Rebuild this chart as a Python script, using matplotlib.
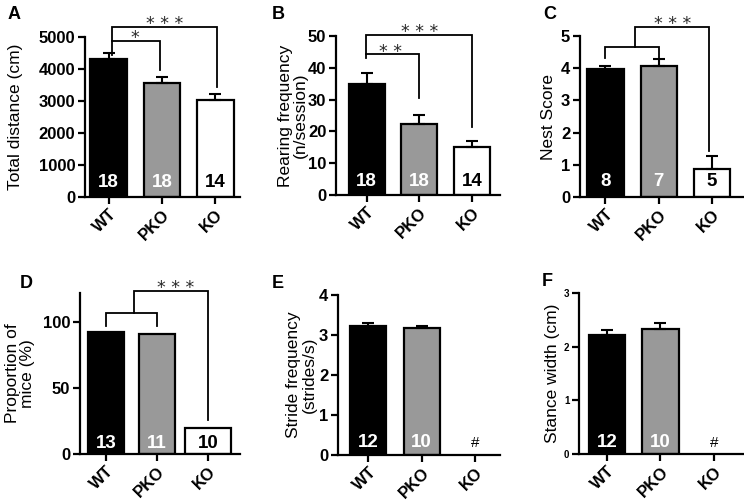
"""
Поведенческие тесты WT / PKO / KO: шесть панелей со столбцами
"""
import matplotlib
matplotlib.use('Agg')
import matplotlib.pyplot as plt
import matplotlib.transforms as mtransforms

plt.rcParams['font.family'] = ['Liberation Sans', 'DejaVu Sans']

groups = ['WT', 'PKO', 'KO']
bar_colors = ['black', '#999999', 'white']
count_colors = ['white', 'white', 'black']

# A - total distance
distance_mean = [4320, 3550, 3020]
distance_err = [180, 210, 190]
distance_n = ['18', '18', '14']

# B - rearing
rearing_mean = [35.0, 22.3, 15.2]
rearing_err = [3.4, 2.8, 1.8]
rearing_n = ['18', '18', '14']

# C - nest score
nest_mean = [3.98, 4.08, 0.88]
nest_err = [0.1, 0.22, 0.38]
nest_n = ['8', '7', '5']

# D - proportion of mice
proportion_mean = [92.3, 90.9, 20.0]
proportion_n = ['13', '11', '10']

# E - stride frequency (KO не измерялся)
stride_mean = [3.23, 3.17]
stride_err = [0.06, 0.06]
stride_n = ['12', '10', '#']

# F - stance width
stance_mean = [2.22, 2.33]
stance_err = [0.09, 0.11]
stance_n = ['12', '10', '#']

W, H = 744, 501
fig = plt.figure(figsize=(W / 100, H / 100), dpi=100)


def make_axes(left, right, bottom, top):
    """Создаёт оси по пиксельным координатам картинки."""
    return fig.add_axes([left / W, 1 - bottom / H,
                         (right - left) / W, (bottom - top) / H])


def draw_panel(ax, means, errs, counts, ylim, yticks, ylabel, xlim,
               count_y, tick_size=12, widths=None):
    n = len(means)
    if widths is None:
        widths = [0.68] * n
    for i in range(n):
        ax.bar(i, means[i], widths[i], color=bar_colors[i],
               edgecolor='black', linewidth=1.6, zorder=2)
        if errs is not None:
            ax.errorbar(i, means[i], yerr=[[0], [errs[i]]], color='black',
                        capsize=4, elinewidth=1.5, capthick=1.5, zorder=3)
    trans = mtransforms.blended_transform_factory(ax.transData, ax.transAxes)
    for i, c in enumerate(counts):
        if c == '#':
            ax.text(i, count_y, c, transform=trans, ha='center',
                    va='center', fontsize=11, color='black')
        else:
            ax.text(i, count_y, c, transform=trans, ha='center',
                    va='center', fontsize=13.5, fontweight='bold',
                    color=count_colors[i], zorder=4)
    ax.set_xlim(xlim)
    ax.set_ylim(ylim)
    ax.set_yticks(yticks)
    ax.set_xticks(range(3))
    ax.set_xticklabels(groups, rotation=45, ha='right',
                       rotation_mode='anchor', fontsize=12,
                       fontweight='bold')
    for lab in ax.get_yticklabels():
        lab.set_fontsize(tick_size)
        lab.set_fontweight('bold')
    ax.set_ylabel(ylabel, fontsize=12.5, linespacing=1.05)
    ax.spines['top'].set_visible(False)
    ax.spines['right'].set_visible(False)
    ax.spines['left'].set_linewidth(1.6)
    ax.spines['bottom'].set_linewidth(1.6)
    ax.tick_params(axis='both', direction='out', length=5, width=1.6,
                   pad=2)


def bracket(ax, x0, x1, y, y0, y1):
    ax.plot([x0, x0, x1, x1], [y0, y, y, y1], color='black', lw=1.3,
            clip_on=False, solid_joinstyle='miter', zorder=5)


def stars(ax, x, y, s):
    """Звёздочки значимости над линией скобки."""
    ax.annotate(s, (x, y), xytext=(0, -1.5), textcoords='offset points',
                ha='center', va='baseline', fontsize=12.5,
                family='DejaVu Sans', color='#2a2a2a',
                annotation_clip=False)


# A
axA = make_axes(85, 240, 197, 37)
draw_panel(axA, distance_mean, distance_err, distance_n, (0, 5000),
           range(0, 5001, 1000), 'Total distance (cm)', (-0.44, 2.46), 0.09)
axA.yaxis.set_label_coords(-0.4, 0.5)
bracket(axA, 0.06, 2.03, 5320, 4875, 3450)
bracket(axA, 0.06, 0.96, 4875, 4450, 3970)
stars(axA, 1.05, 5320, '* * *')
stars(axA, 0.5, 4875, '*')

# B
axB = make_axes(336, 500, 195, 36)
draw_panel(axB, rearing_mean, rearing_err, rearing_n, (0, 50),
           range(0, 51, 10), 'Rearing frequency\n(n/session)',
           (-0.58, 2.53), 0.085)
axB.yaxis.set_label_coords(-0.17, 0.5)
bracket(axB, -0.01, 2.0, 50.2, 43.0, 21.5)
bracket(axB, -0.01, 1.0, 44.2, 44.2, 30.6)
stars(axB, 1.0, 50.2, '* * *')
stars(axB, 0.45, 44.2, '* *')

# C
axC = make_axes(580, 743, 197, 36)
draw_panel(axC, nest_mean, nest_err, nest_n, (0, 5), range(0, 6),
           'Nest Score', (-0.48, 2.59), 0.097)
axC.yaxis.set_label_coords(-0.145, 0.5)
bracket(axC, 0.0, 1.0, 4.67, 4.31, 4.31)
bracket(axC, 0.56, 1.95, 5.27, 4.67, 1.42)
stars(axC, 1.27, 5.27, '* * *')

# D
axD = make_axes(80, 240, 454, 293)
draw_panel(axD, proportion_mean, None, proportion_n, (0, 122),
           [0, 50, 100], 'Proportion of\nmice (%)', (-0.51, 2.63), 0.068,
           widths=[0.7, 0.7, 0.9])
axD.yaxis.set_label_coords(-0.28, 0.5)
bracket(axD, 0.0, 1.0, 106.8, 96.7, 96.7)
bracket(axD, 0.55, 2.0, 123.5, 106.8, 25.8)
stars(axD, 1.36, 123.5, '* * *')

# E
axE = make_axes(338, 500, 455, 295)
draw_panel(axE, stride_mean, stride_err, stride_n, (0, 4), range(0, 5),
           'Stride frequency\n(strides/s)', (-0.57, 2.47), 0.077)
axE.yaxis.set_label_coords(-0.13, 0.5)

# F
axF = make_axes(579, 744, 454, 293)
draw_panel(axF, stance_mean, stance_err, stance_n, (0, 3), range(0, 4),
           'Stance width (cm)', (-0.52, 2.56), 0.07, tick_size=7)
axF.yaxis.set_label_coords(-0.115, 0.5)

# буквы панелей
fig.text(8 / W, 1 - 19 / H, 'A', fontsize=13, fontweight='bold')
fig.text(272 / W, 1 - 19 / H, 'B', fontsize=13, fontweight='bold')
fig.text(543 / W, 1 - 19 / H, 'C', fontsize=13, fontweight='bold')
fig.text(20 / W, 1 - 288 / H, 'D', fontsize=13, fontweight='bold')
fig.text(272 / W, 1 - 288 / H, 'E', fontsize=13, fontweight='bold')
fig.text(542 / W, 1 - 286 / H, 'F', fontsize=13, fontweight='bold')

fig.savefig('out.png', dpi=100)
